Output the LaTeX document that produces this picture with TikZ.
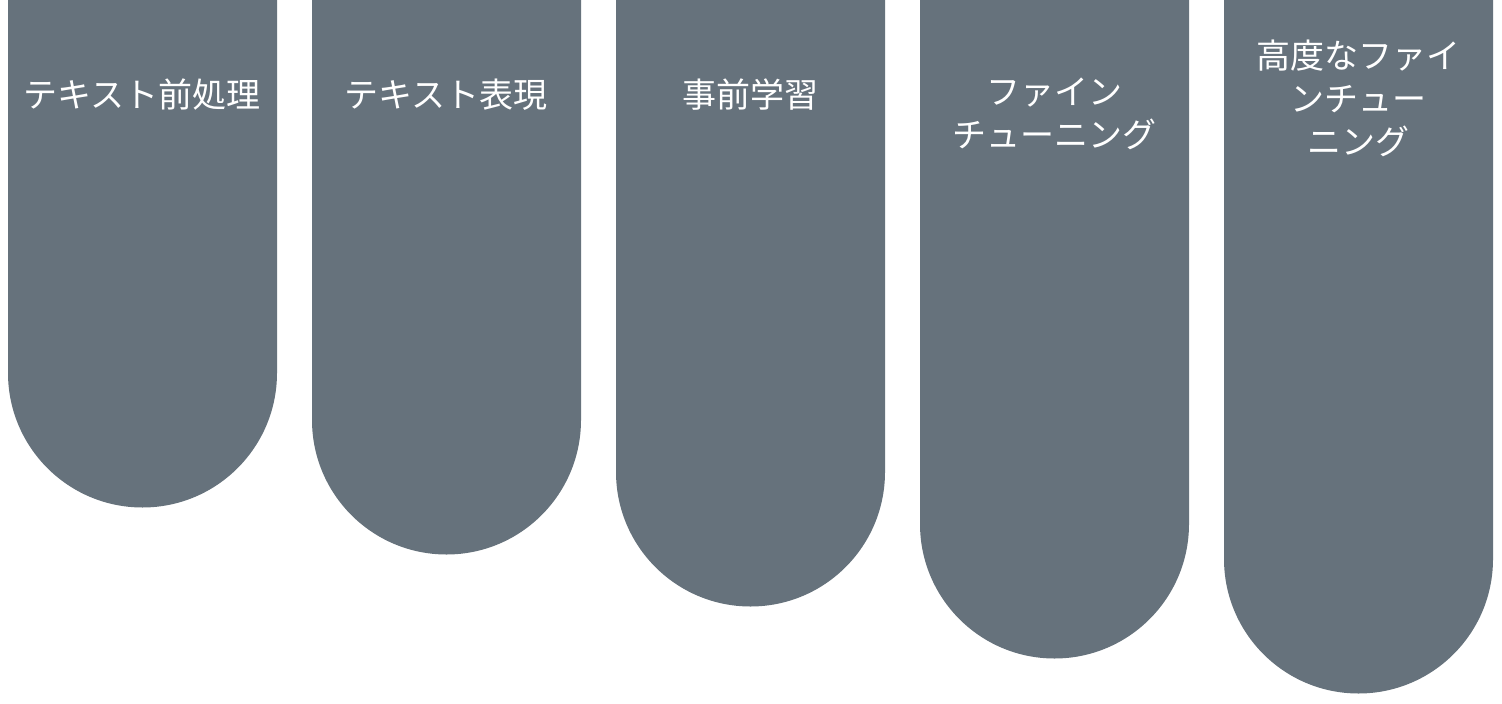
\documentclass[tikz,border=0pt]{standalone}
\usepackage{fontspec}
\newfontfamily\cjk{Noto Sans CJK JP}
\definecolor{barcol}{RGB}{102,114,124}
\begin{document}
\begin{tikzpicture}[x=1pt,y=1pt,
  bar/.style={fill=barcol,draw=none},
  lbl/.style={text=white,inner sep=0pt,align=center,font=\cjk\fontsize{34}{43}\selectfont}]
\useasboundingbox (0,0) rectangle (1502,-704);
\fill[white] (0,0) rectangle (1502,-704);
% bars: left x, straight bottom
\foreach \x/\s in {8/373,312/420,616/472,920/524,1224/559}{
  \path[bar] (\x,1) -- (\x,-\s) arc[start angle=180,end angle=360,radius=134.5] -- (\x+269,1) -- cycle;
}
\node[lbl] (t1) at (142,-95) {テキスト前処理};
\node[lbl] (t2) at (446,-95) {テキスト表現};
\node[lbl] (t3) at (750,-95) {事前学習};
\node[lbl] (t4) at (1054,-114) {ファイン\\チューニング};
\node[lbl] (t5) at (1358,-98) {高度なファイ\\ンチュー\\ニング};
\end{tikzpicture}
\end{document}
